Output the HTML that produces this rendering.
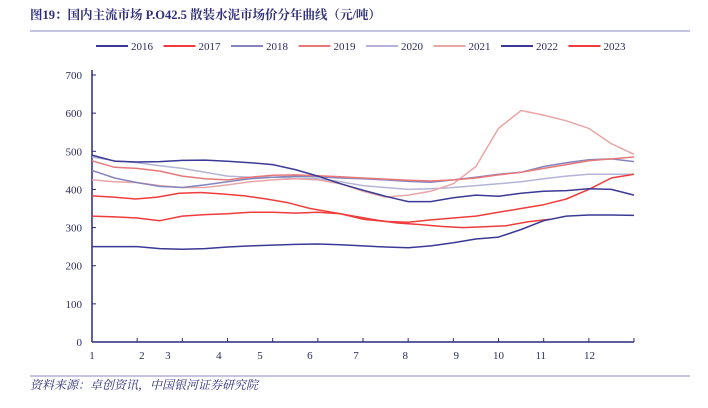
<!DOCTYPE html>
<html><head><meta charset="utf-8"><style>
body{margin:0;width:708px;height:403px;background:#fff;overflow:hidden;font-family:"Liberation Serif","Noto Serif CJK SC",serif}
</style></head><body>
<svg width="708" height="403" xmlns="http://www.w3.org/2000/svg">
<text x="30" y="19" font-size="12.5" font-weight="bold" fill="#2e2e7a" font-family="Liberation Serif, Noto Serif CJK SC, serif">图19：国内主流市场 P.O42.5 散装水泥市场价分年曲线（元/吨）</text>
<line x1="30" y1="31" x2="690" y2="31" stroke="#8a8ac0" stroke-width="1"/>
<g id="legend"></g>
<g id="axes"></g>
<g id="series"></g>
<line x1="30" y1="376" x2="690" y2="376" stroke="#8a8ac0" stroke-width="1"/>
<text x="30" y="389" font-size="12" font-style="italic" fill="#2e2e7a" font-family="Liberation Serif, Noto Serif CJK SC, serif">资料来源：卓创资讯，中国银河证券研究院</text>
</svg>
<script>
const yTicks=[0,100,200,300,400,500,600,700];
const monthLabels=["1","2","3","4","5","6","7","8","9","10","11","12"];
const monthLabelPos=[0,0.092,0.14,0.234,0.31,0.402,0.487,0.578,0.672,0.75,0.828,0.918];
const seriesNames=["2016","2017","2018","2019","2020","2021","2022","2023"];
const seriesColors=["#3a3a96","#f03c3c","#8585bd","#e87878","#b4b4d6","#eaa6a6","#3a3a96","#f03c3c"];
const s2016=[250,250,250,245,243,245,249,252,254,256,257,255,252,249,247,252,260,270,275,295,318,330,333,333,332];
const s2017=[330,328,325,318,330,334,336,340,340,338,340,336,322,316,314,320,325,330,340,350,360,375,400,430,440];
const s2018=[450,430,418,408,405,412,420,428,432,435,433,430,428,425,421,419,425,432,440,445,460,470,478,480,473];
const s2019=[475,458,455,448,435,428,425,432,437,438,436,433,430,427,424,422,425,430,438,445,455,465,475,480,485];
const s2020=[485,475,470,462,455,445,435,432,432,430,428,420,410,405,400,402,405,410,415,420,428,435,440,440,440];
const s2021=[425,420,418,410,405,405,412,420,425,428,425,415,395,380,385,395,415,460,560,607,595,580,560,520,492];
const s2022=[490,474,472,473,476,477,474,470,465,452,435,415,398,382,368,368,378,385,382,390,395,397,402,400,385];
const s2023=[383,380,375,380,390,392,388,383,375,365,350,340,330,320,312,308,303,300,302,305,315,322];
const allSeries=[s2016,s2017,s2018,s2019,s2020,s2021,s2022,s2023];
const NS='http://www.w3.org/2000/svg';
const X0=92,X1=634,Y0=342,YTOP=75,YMAX=700,STEPS=24,T2023END=0.845;
const xs=t=>X0+t*(X1-X0);
const ys=v=>Y0-v/YMAX*(Y0-YTOP);
function mk(tag,attrs,parent){const e=document.createElementNS(NS,tag);for(const k in attrs)e.setAttribute(k,attrs[k]);parent.appendChild(e);return e;}
const axes=document.getElementById('axes');
let a=mk('line',{x1:X0,y1:YTOP-5,x2:X0,y2:Y0,stroke:'#2a2a80','stroke-width':1.5},axes);


a=mk('line',{x1:X0,y1:Y0,x2:X1,y2:Y0,stroke:'#2a2a80','stroke-width':1.5},axes);


yTicks.forEach(v=>{
 const tk=mk('line',{x1:X0,y1:ys(v),x2:X0+4,y2:ys(v),stroke:'#2a2a80'},axes);
 
 
 const t=mk('text',{x:X0-10,y:ys(v)+4,'font-size':11,'text-anchor':'end',fill:'#2a2a60'},axes);
 t.textContent=v;
 
 
});
for(let i=1;i<=12;i++){
 const x=X0+i*(X1-X0)/12;
 const tk=mk('line',{x1:x,y1:Y0,x2:x,y2:Y0-4,stroke:'#2a2a80'},axes);
 
 
}
monthLabels.forEach((m,i)=>{
 const t=mk('text',{x:xs(monthLabelPos[i]),y:Y0+17,'font-size':11,'text-anchor':'middle',fill:'#2a2a60'},axes);
 t.textContent=m;
 
 
});
const sg=document.getElementById('series');
const order=[4,5,2,3,1,7,0,6];
order.forEach(k=>{
 const arr=allSeries[k];
 const step=(k===7)?T2023END/(arr.length-1):1/STEPS;
 const d=arr.map((v,i)=>xs(i*step).toFixed(1)+','+ys(v).toFixed(1)).join(' ');
 const p=mk('polyline',{points:d,fill:'none',stroke:seriesColors[k],'stroke-width':1.5,'stroke-linejoin':'round'},sg);
 
 
});
const lg=document.getElementById('legend');
seriesNames.forEach((n,i)=>{
 const x=96+i*67.5;
 const l=mk('line',{x1:x,y1:46,x2:x+32,y2:46,stroke:seriesColors[i],'stroke-width':2},lg);
 
 
 const t=mk('text',{x:x+35,y:50,'font-size':11,fill:'#2a2a60'},lg);
 t.textContent=n;
 
 
});
</script>
</body></html>
